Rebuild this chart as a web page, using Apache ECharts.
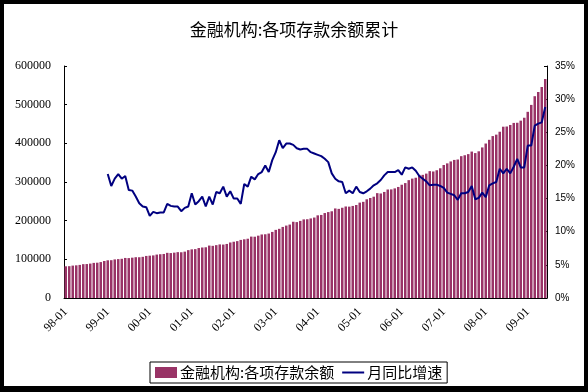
<!DOCTYPE html>
<html>
<head>
<meta charset="utf-8">
<script src="https://cdn.jsdelivr.net/npm/echarts@6/dist/echarts.min.js"></script>
<style>
html,body{margin:0;padding:0;background:#000;width:588px;height:392px;overflow:hidden;}
#c{position:absolute;left:4px;top:4px;width:580px;height:382px;background:#fff;}
</style>
</head>
<body>
<div id="c"></div>
<script>
// Monthly categories 1998-01 .. 2009-06
const years = ['98','99','00','01','02','03','04','05','06','07','08','09'];
const months = ['01','02','03','04','05','06','07','08','09','10','11','12'];
const categories = [];
years.forEach(y => months.forEach(m => categories.push(y + '-' + m)));
categories.length = 138;

// 金融机构:各项存款余额 (亿元)
const deposits = [
  82000, 82300, 83800, 84500, 85600, 87500, 87800, 89000, 90800, 91300, 92900, 95700,
  97500, 97800, 99800, 100600, 101400, 103600, 103200, 104300, 105500, 105400, 106500, 108800,
  109500, 110200, 112300, 113200, 113900, 116800, 116200, 117300, 118600, 118300, 119900, 123800,
  125800, 126400, 129200, 130600, 131200, 135600, 134900, 136700, 138600, 138200, 139800, 143600,
  145500, 147100, 150200, 151800, 153300, 158800, 158500, 161200, 164300, 164800, 166700, 170900,
  176200, 178900, 183800, 187300, 189900, 197200, 196300, 199400, 203300, 203700, 205800, 208100,
  213800, 214800, 219700, 222200, 224300, 231600, 230500, 233400, 236700, 236300, 238100, 240500,
  246700, 248700, 255300, 258700, 262000, 271200, 270300, 274300, 280600, 280900, 283500, 287200,
  292900, 297200, 304800, 308800, 311000, 318400, 318500, 321700, 328100, 327200, 330400, 335500,
  343900, 348200, 353200, 357100, 358200, 366800, 369200, 372100, 378700, 374800, 379400, 389400,
  399500, 409100, 418800, 422500, 430000, 443000, 443500, 447500, 452800, 453200, 458700, 466200,
  481500, 499400, 521900, 532800, 545700, 566300
];

// 月同比增速 (%), from 1999-01
const growth = [
  18.7, 16.9, 18.0, 18.7, 18.0, 18.4, 16.3, 16.2, 15.3, 14.3, 13.8, 13.7,
  12.4, 13.0, 12.8, 12.9, 12.9, 14.2, 13.9, 13.8, 13.8, 13.1, 13.6, 13.8,
  15.8, 14.1, 14.6, 15.3, 13.8, 15.3, 14.1, 16.0, 15.8, 16.8, 15.3, 16.1,
  15.0, 15.0, 14.2, 17.2, 16.8, 18.3, 17.9, 18.7, 19.0, 20.0, 19.0, 20.8,
  22.0, 23.8, 22.6, 23.3, 23.3, 23.1, 22.6, 22.4, 22.5, 22.5, 22.0, 21.8,
  21.6, 21.4, 21.0, 20.5, 18.8, 18.0, 17.6, 17.5, 15.8, 16.2, 15.8, 16.8,
  16.0, 15.8, 16.1, 16.5, 17.0, 17.3, 17.8, 18.5, 19.0, 19.0, 19.0, 19.3,
  18.6, 19.7, 19.5, 19.7, 19.2, 18.4, 18.0, 17.6, 17.0, 17.1, 17.1, 16.9,
  16.6, 15.9, 15.7, 15.5, 14.8, 15.8, 15.8, 16.0, 16.9, 14.9, 15.1, 15.9,
  15.2, 17.0, 17.3, 17.5, 19.5, 18.8, 19.5, 18.8, 19.8, 21.0, 19.7, 19.7,
  23.0, 23.0, 26.0, 26.3, 26.5, 28.8
];
const growthSeries = new Array(12).fill(null).concat(growth);

const leftTicks = [0, 100000, 200000, 300000, 400000, 500000, 600000];
const rightTicks = [0, 5, 10, 15, 20, 25, 30, 35];

const title = '金融机构:各项存款余额累计';
const barName = '金融机构:各项存款余额';
const lineName = '月同比增速';

const chart = echarts.init(document.getElementById('c'), null, {renderer: 'canvas'});
const serif = '"Liberation Serif", "Noto Sans CJK SC", serif';
const cjk = '"Noto Sans CJK SC", sans-serif';
chart.setOption({
  backgroundColor: '#fff',
  animation: false,
  title: {
    text: title,
    left: 'center',
    top: 12,
    textStyle: {fontFamily: cjk, fontSize: 17, fontWeight: 'normal', color: '#000'}
  },
  legend: {
    left: 146,
    top: 358,
    itemGap: 8,
    padding: [3, 5, 3, 5],
    borderColor: '#000',
    borderWidth: 1,
    borderRadius: 0,
    itemWidth: 22,
    itemHeight: 11,
    textStyle: {fontFamily: cjk, fontSize: 15, color: '#000', padding: [0,0,0,-2]},
    data: [
      {name: barName, icon: 'rect'},
      {name: lineName, icon: 'path://M0,4 L22,4 L22,6 L0,6 Z'}
    ]
  },
  grid: {left: 60, right: 37, top: 62, bottom: 88, containLabel: false},
  xAxis: {
    type: 'category',
    data: categories,
    boundaryGap: true,
    axisLine: {lineStyle: {color: '#000', width: 1}},
    axisTick: {show: false},
    axisLabel: {
      interval: 11,
      rotate: 45,
      margin: 12,
      fontFamily: serif,
      fontSize: 12,
      color: '#000'
    }
  },
  yAxis: [
    {
      type: 'value',
      min: 0, max: 600000, interval: 100000,
      axisLine: {show: true, lineStyle: {color: '#000'}},
      axisTick: {show: true, inside: true, length: 3, lineStyle: {color: '#000'}},
      splitLine: {show: false},
      axisLabel: {fontFamily: serif, fontSize: 12, color: '#000', margin: 13,
        formatter: v => String(v)}
    },
    {
      type: 'value',
      min: 0, max: 35, interval: 5,
      position: 'right',
      axisLine: {show: true, lineStyle: {color: '#000'}},
      axisTick: {show: true, inside: true, length: 3, lineStyle: {color: '#000'}},
      splitLine: {show: false},
      axisLabel: {fontFamily: '"Liberation Sans", Arial, sans-serif', fontSize: 10, color: '#000', margin: 8,
        formatter: v => v + '%'}
    }
  ],
  series: [
    {
      name: barName,
      type: 'bar',
      yAxisIndex: 0,
      data: deposits,
      barCategoryGap: '28%',
      itemStyle: {color: '#993366'}
    },
    {
      name: lineName,
      type: 'line',
      yAxisIndex: 1,
      data: growthSeries,
      showSymbol: false,
      symbol: 'none',
      connectNulls: false,
      lineStyle: {color: '#000080', width: 2},
      itemStyle: {color: '#000080'}
    }
  ]
});
</script>
</body>
</html>
